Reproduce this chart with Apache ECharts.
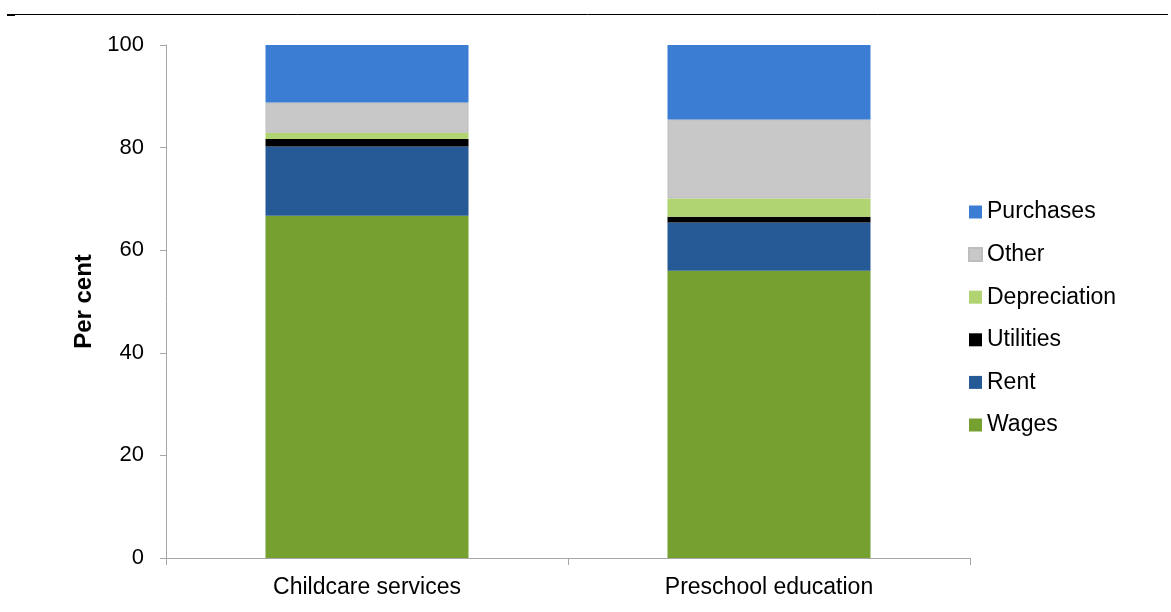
<!DOCTYPE html>
<html><head><meta charset="utf-8">
<script src="https://cdn.jsdelivr.net/npm/echarts@6/dist/echarts.min.js"></script>
<style>html,body{margin:0;padding:0;background:#fff}#c{width:1171px;height:612px}</style>
</head><body><div id="c"></div>
<script>
const categories = ['Childcare services', 'Preschool education'];
const wages = [66.7, 56.0];
const rent = [13.5, 9.4];
const utilities = [1.5, 1.1];
const depreciation = [1.2, 3.6];
const other = [5.9, 15.4];
const purchases = [11.2, 14.5];
const yTicks = [0, 20, 40, 60, 80, 100];

const font = '"Liberation Sans", Arial, sans-serif';
const chart = echarts.init(document.getElementById('c'));
function s(name, data, color, border) {
  return { name, type: 'bar', stack: 'a', data, barWidth: '50.5%',
    itemStyle: { color, borderColor: border || color, borderWidth: border ? 1 : 0 } };
}
chart.setOption({
  animation: false,
  textStyle: { fontFamily: font },
  grid: { left: 166, right: 201, top: 45, bottom: 54 },
  xAxis: { type: 'category', data: categories,
    axisLine: { lineStyle: { color: '#a6a6a6', width: 1 } },
    axisTick: { show: true, length: 7, lineStyle: { color: '#a6a6a6' } },
    axisLabel: { color: '#000', fontSize: 23, fontFamily: font, margin: 18 } },
  yAxis: { type: 'value', min: 0, max: 100, interval: 20,
    name: 'Per cent', nameLocation: 'middle', nameGap: 68,
    nameTextStyle: { color: '#000', fontSize: 24, fontWeight: 'bold', fontFamily: font },
    splitLine: { show: false },
    axisLine: { show: true, lineStyle: { color: '#a6a6a6' } },
    axisTick: { show: true, length: 6, lineStyle: { color: '#a6a6a6' } },
    axisLabel: { color: '#000', fontSize: 22, fontFamily: font, margin: 22,
      formatter: v => yTicks.includes(v) ? String(v) : '' } },
  legend: { orient: 'vertical', left: 968, top: 200, padding: 0, icon: 'rect',
    itemWidth: 13, itemHeight: 13, itemGap: 18.6,
    data: ['Purchases', 'Other', 'Depreciation', 'Utilities', 'Rent', 'Wages'],
    textStyle: { color: '#000', fontSize: 23, lineHeight: 24, fontFamily: font } },
  graphic: [
    { type: 'line', shape: { x1: 7, y1: 14.5, x2: 1168, y2: 14.5 }, style: { stroke: '#000', lineWidth: 1 } },
    { type: 'rect', shape: { x: 7, y: 14, width: 8, height: 2 }, style: { fill: '#000' } }
  ],
  series: [
    s('Wages', wages, '#76a131'),
    s('Rent', rent, '#265a96'),
    s('Utilities', utilities, '#000000'),
    s('Depreciation', depreciation, '#b0d472'),
    s('Other', other, '#c8c8c8', '#bdbdbd'),
    s('Purchases', purchases, '#3a7dd3')
  ]
});
</script></body></html>
